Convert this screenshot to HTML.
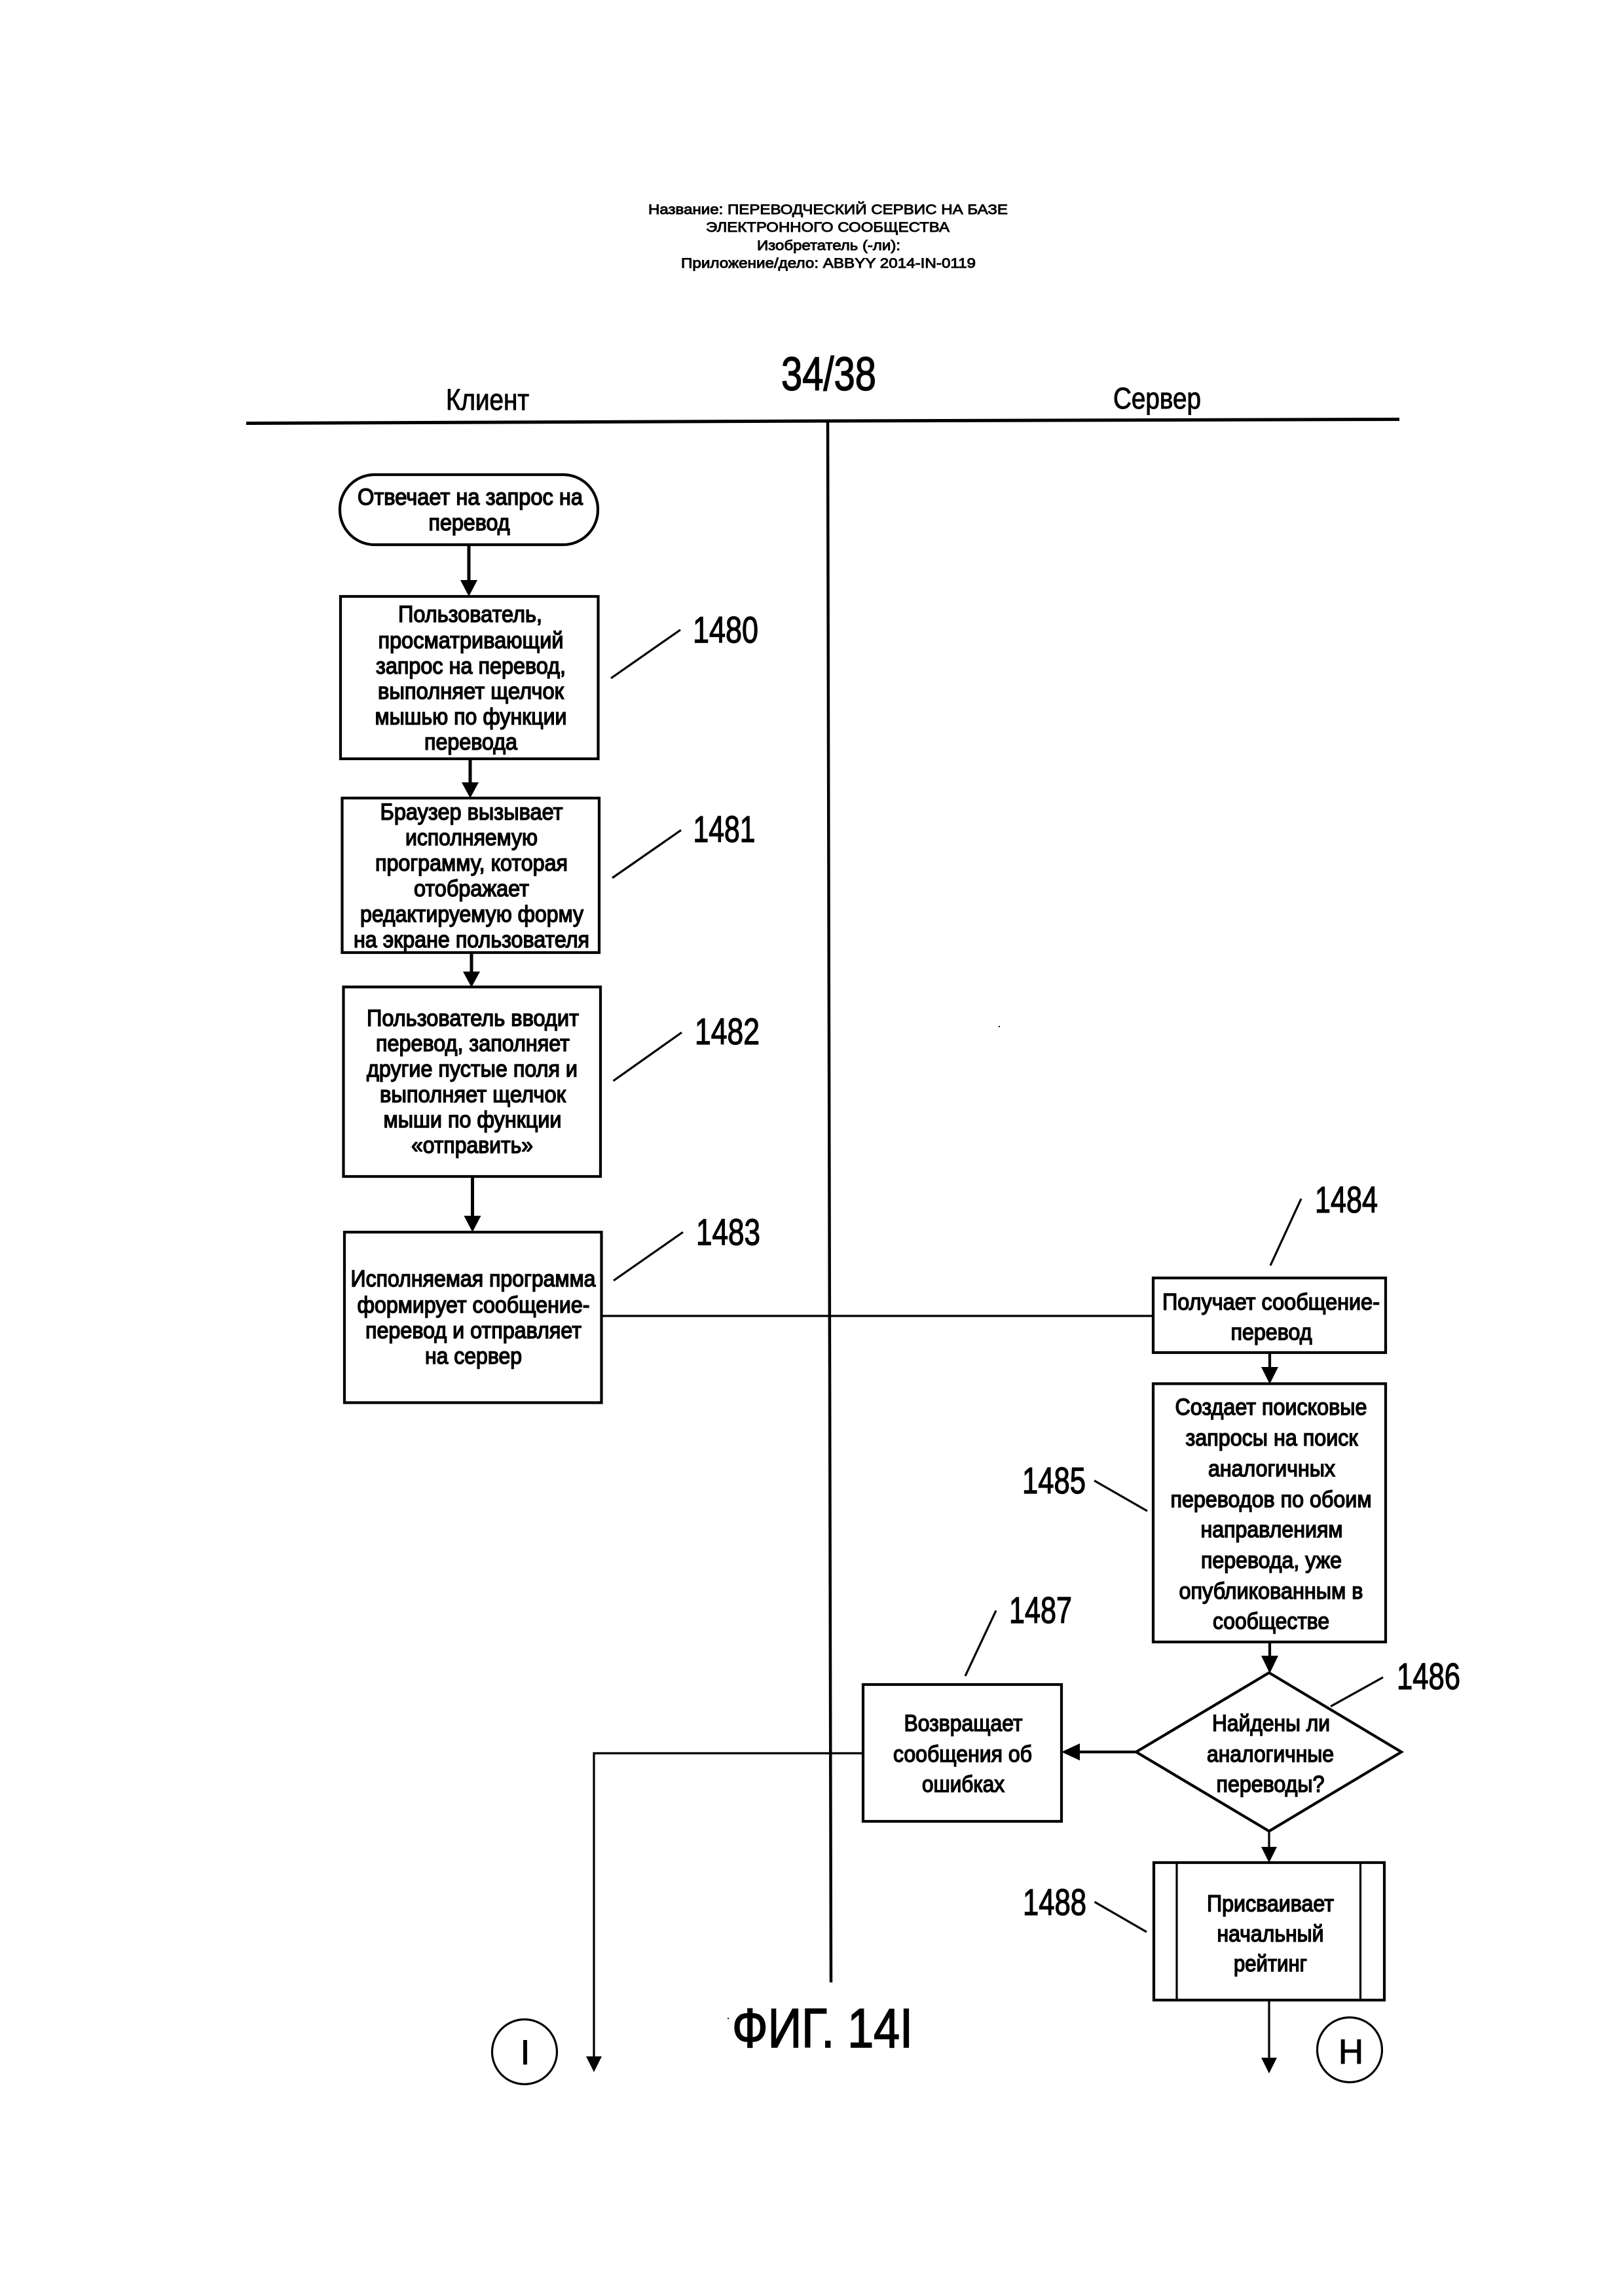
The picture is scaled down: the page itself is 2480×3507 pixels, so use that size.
<!DOCTYPE html>
<html lang="ru"><head><meta charset="utf-8"><title>ФИГ. 14I</title>
<style>
html,body{margin:0;padding:0;background:#fff}
svg{display:block}
text{font-family:"Liberation Sans","DejaVu Sans",sans-serif;fill:#000;text-anchor:middle;stroke:#000}
.b{font-size:35px;stroke-width:1.5px}
.n{font-size:57px;stroke-width:1.3px}
.h{font-size:21px;stroke-width:.9px}
.l{fill:none;stroke:#000;stroke-width:4.2px}
.s{fill:none;stroke:#000;stroke-width:3.2px}
.a{fill:#000;stroke:none}
</style></head><body>
<svg width="2480" height="3507" viewBox="0 0 2480 3507" xmlns="http://www.w3.org/2000/svg">
<rect width="2480" height="3507" fill="#fff"/>

<!-- header -->
<text class="h" x="1264.5" y="327" textLength="549" lengthAdjust="spacingAndGlyphs">Название:  ПЕРЕВОДЧЕСКИЙ СЕРВИС НА БАЗЕ</text>
<text class="h" x="1264" y="354" textLength="372" lengthAdjust="spacingAndGlyphs">ЭЛЕКТРОННОГО СООБЩЕСТВА</text>
<text class="h" x="1265.5" y="382" textLength="219" lengthAdjust="spacingAndGlyphs">Изобретатель (-ли):</text>
<text class="h" x="1265" y="409" textLength="450" lengthAdjust="spacingAndGlyphs">Приложение/дело:  ABBYY 2014-IN-0119</text>

<text x="1265.5" y="596" font-size="72" stroke-width="1.5" textLength="145" lengthAdjust="spacingAndGlyphs">34/38</text>
<text x="744.5" y="626" font-size="45" stroke-width="1" textLength="127" lengthAdjust="spacingAndGlyphs">Клиент</text>
<text x="1767" y="624" font-size="45" stroke-width="1" textLength="134" lengthAdjust="spacingAndGlyphs">Сервер</text>

<!-- swimlane -->
<path d="M376 646.5L1264 643L2137 640.5" fill="none" stroke="#000" stroke-width="5"/>
<path class="l" d="M1264 643L1269 3028" style="stroke-width:4.5px"/>

<!-- terminator -->
<rect class="l" x="519" y="725" width="394" height="107" rx="53" ry="53"/>
<text class="b" x="718" y="771" textLength="344" lengthAdjust="spacingAndGlyphs">Отвечает на запрос на</text>
<text class="b" x="716.5" y="810" textLength="124" lengthAdjust="spacingAndGlyphs">перевод</text>

<!-- arrows left column -->
<path class="l" d="M716 832V890" style="stroke-width:5px"/><polygon class="a" points="703,886 729,886 716,911"/>
<path class="l" d="M718 1159V1198" style="stroke-width:5px"/><polygon class="a" points="705,1195 731,1195 718,1219"/>
<path class="l" d="M720 1455V1488" style="stroke-width:5px"/><polygon class="a" points="707,1484 733,1484 720,1508"/>
<path class="l" d="M721.5 1797V1860" style="stroke-width:5px"/><polygon class="a" points="708.5,1857 734.5,1857 721.5,1882"/>

<!-- 1480 -->
<rect class="l" x="520" y="911" width="393.5" height="248"/>
<text class="b" x="718" y="950" textLength="220" lengthAdjust="spacingAndGlyphs">Пользователь,</text>
<text class="b" x="719" y="990" textLength="283" lengthAdjust="spacingAndGlyphs">просматривающий</text>
<text class="b" x="719" y="1029" textLength="290" lengthAdjust="spacingAndGlyphs">запрос на перевод,</text>
<text class="b" x="719" y="1067.5" textLength="284" lengthAdjust="spacingAndGlyphs">выполняет щелчок</text>
<text class="b" x="719" y="1106.5" textLength="293" lengthAdjust="spacingAndGlyphs">мышью по функции</text>
<text class="b" x="719" y="1145" textLength="142" lengthAdjust="spacingAndGlyphs">перевода</text>
<path class="s" d="M933 1036L1039 962"/>
<text class="n" x="1108" y="981.5" textLength="100" lengthAdjust="spacingAndGlyphs">1480</text>

<!-- 1481 -->
<rect class="l" x="522.5" y="1219" width="392.5" height="236"/>
<text class="b" x="720" y="1252" textLength="279" lengthAdjust="spacingAndGlyphs">Браузер вызывает</text>
<text class="b" x="720" y="1291" textLength="202" lengthAdjust="spacingAndGlyphs">исполняемую</text>
<text class="b" x="720" y="1330" textLength="294" lengthAdjust="spacingAndGlyphs">программу, которая</text>
<text class="b" x="720" y="1369" textLength="176" lengthAdjust="spacingAndGlyphs">отображает</text>
<text class="b" x="720.5" y="1408" textLength="341" lengthAdjust="spacingAndGlyphs">редактируемую форму</text>
<text class="b" x="720" y="1447" textLength="360" lengthAdjust="spacingAndGlyphs">на экране пользователя</text>
<path class="s" d="M935 1341L1040 1268"/>
<text class="n" x="1106" y="1286" textLength="95" lengthAdjust="spacingAndGlyphs">1481</text>

<!-- 1482 -->
<rect class="l" x="524.5" y="1507.5" width="392.5" height="289.5"/>
<text class="b" x="722" y="1567" textLength="324" lengthAdjust="spacingAndGlyphs">Пользователь вводит</text>
<text class="b" x="722" y="1605.5" textLength="296" lengthAdjust="spacingAndGlyphs">перевод, заполняет</text>
<text class="b" x="721" y="1644.5" textLength="322" lengthAdjust="spacingAndGlyphs">другие пустые поля и</text>
<text class="b" x="722" y="1683.5" textLength="284" lengthAdjust="spacingAndGlyphs">выполняет щелчок</text>
<text class="b" x="721.5" y="1722" textLength="272" lengthAdjust="spacingAndGlyphs">мыши по функции</text>
<text class="b" x="721" y="1761" textLength="186" lengthAdjust="spacingAndGlyphs">«отправить»</text>
<path class="s" d="M936.5 1651L1041 1577"/>
<text class="n" x="1110.5" y="1595" textLength="99" lengthAdjust="spacingAndGlyphs">1482</text>

<!-- 1483 -->
<rect class="l" x="526" y="1882" width="392.5" height="260.5"/>
<text class="b" x="722.5" y="1965" textLength="374" lengthAdjust="spacingAndGlyphs">Исполняемая программа</text>
<text class="b" x="723" y="2005" textLength="355" lengthAdjust="spacingAndGlyphs">формирует сообщение-</text>
<text class="b" x="723" y="2044" textLength="330" lengthAdjust="spacingAndGlyphs">перевод и отправляет</text>
<text class="b" x="723" y="2083" textLength="148" lengthAdjust="spacingAndGlyphs">на сервер</text>
<path class="s" d="M937 1956L1043 1882"/>
<text class="n" x="1112" y="1901.5" textLength="98" lengthAdjust="spacingAndGlyphs">1483</text>

<path class="s" d="M918 2010H1761"/>

<!-- 1484 -->
<rect class="l" x="1761" y="1952" width="355" height="114"/>
<text class="b" x="1941" y="2000.5" textLength="332" lengthAdjust="spacingAndGlyphs">Получает сообщение-</text>
<text class="b" x="1941.5" y="2046.5" textLength="124" lengthAdjust="spacingAndGlyphs">перевод</text>
<path class="s" d="M1940 1933L1987 1831"/>
<text class="n" x="2056" y="1852" textLength="96" lengthAdjust="spacingAndGlyphs">1484</text>

<path class="l" d="M1939 2066V2092"/><polygon class="a" points="1926,2088 1952,2088 1939,2114"/>

<!-- 1485 -->
<rect class="l" x="1761" y="2113.5" width="355" height="394.5"/>
<text class="b" x="1941" y="2161" textLength="293" lengthAdjust="spacingAndGlyphs">Создает поисковые</text>
<text class="b" x="1942" y="2208" textLength="263" lengthAdjust="spacingAndGlyphs">запросы на поиск</text>
<text class="b" x="1942" y="2255" textLength="194" lengthAdjust="spacingAndGlyphs">аналогичных</text>
<text class="b" x="1941" y="2302" textLength="307" lengthAdjust="spacingAndGlyphs">переводов по обоим</text>
<text class="b" x="1942" y="2348" textLength="217" lengthAdjust="spacingAndGlyphs">направлениям</text>
<text class="b" x="1941.5" y="2395" textLength="215" lengthAdjust="spacingAndGlyphs">перевода, уже</text>
<text class="b" x="1941" y="2442" textLength="281" lengthAdjust="spacingAndGlyphs">опубликованным в</text>
<text class="b" x="1941" y="2488" textLength="178" lengthAdjust="spacingAndGlyphs">сообществе</text>
<path class="s" d="M1671 2261.5L1752 2308"/>
<text class="n" x="1609.5" y="2281" textLength="97" lengthAdjust="spacingAndGlyphs">1485</text>

<path class="l" d="M1939 2508V2533"/><polygon class="a" points="1926,2529 1952,2529 1939,2556"/>

<!-- 1486 diamond -->
<polygon class="l" points="1938,2555 2140,2676 1938,2797 1735,2676"/>
<text class="b" x="1941" y="2644" textLength="180" lengthAdjust="spacingAndGlyphs">Найдены ли</text>
<text class="b" x="1940" y="2691" textLength="194" lengthAdjust="spacingAndGlyphs">аналогичные</text>
<text class="b" x="1940" y="2737" textLength="165" lengthAdjust="spacingAndGlyphs">переводы?</text>
<path class="s" d="M2032 2606.5L2112 2562"/>
<text class="n" x="2181.5" y="2580" textLength="97" lengthAdjust="spacingAndGlyphs">1486</text>

<!-- 1487 -->
<path class="l" d="M1735 2676H1645"/><polygon class="a" points="1649,2663 1649,2689 1621,2676"/>
<rect class="l" x="1318" y="2573" width="303" height="209"/>
<text class="b" x="1471" y="2644" textLength="181" lengthAdjust="spacingAndGlyphs">Возвращает</text>
<text class="b" x="1470" y="2691" textLength="212" lengthAdjust="spacingAndGlyphs">сообщения об</text>
<text class="b" x="1471" y="2737" textLength="126" lengthAdjust="spacingAndGlyphs">ошибках</text>
<path class="s" d="M1474 2560L1521 2460"/>
<text class="n" x="1589" y="2479" textLength="96" lengthAdjust="spacingAndGlyphs">1487</text>

<!-- left return line -->
<path class="s" d="M1318 2678H907V3145"/><polygon class="a" points="895,3141 919,3141 907,3165"/>
<circle class="s" cx="801" cy="3134" r="49.5"/>
<text x="802" y="3153" font-size="53" stroke-width="1">I</text>

<!-- 1488 -->
<path class="s" d="M1938 2797V2825"/><polygon class="a" points="1926,2821 1950,2821 1938,2845"/>
<rect class="l" x="1762" y="2845" width="352" height="210"/>
<path class="s" d="M1797 2845V3055M2077.5 2845V3055"/>
<text class="b" x="1940" y="2919.5" textLength="194" lengthAdjust="spacingAndGlyphs">Присваивает</text>
<text class="b" x="1940" y="2965.5" textLength="163" lengthAdjust="spacingAndGlyphs">начальный</text>
<text class="b" x="1940" y="3011" textLength="112" lengthAdjust="spacingAndGlyphs">рейтинг</text>
<path class="s" d="M1671.5 2905L1751 2951"/>
<text class="n" x="1610.5" y="2925" textLength="97" lengthAdjust="spacingAndGlyphs">1488</text>

<path class="s" d="M1938 3055V3147"/><polygon class="a" points="1926,3143 1950,3143 1938,3167"/>
<circle class="s" cx="2061" cy="3131" r="49.5"/>
<text x="2063" y="3152" font-size="53" stroke-width="1">Н</text>

<!-- figure label -->
<text x="1256" y="3127" font-size="84" stroke-width="1.8" textLength="276" lengthAdjust="spacingAndGlyphs">ФИГ. 14I</text>

<!-- specks -->
<rect x="1525" y="1567" width="2" height="2" fill="#000"/>
<rect x="1111" y="3082" width="2" height="2" fill="#000"/>
</svg>
</body></html>
